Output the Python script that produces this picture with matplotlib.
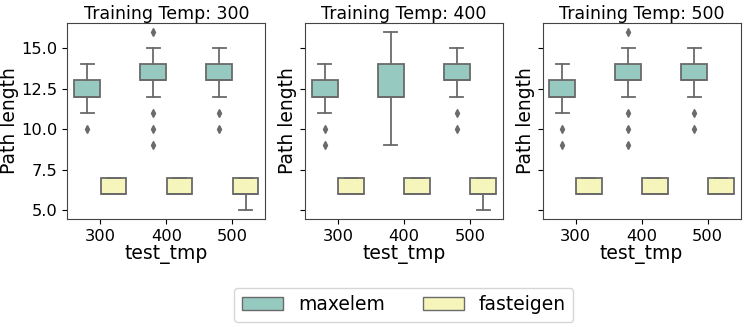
import matplotlib
matplotlib.use("Agg")
import matplotlib.pyplot as plt
from matplotlib.patches import Patch

# box statistics: (q1, median, q3, whisker low, whisker high, fliers)
train_temps = [300, 400, 500]
test_tmps = [300, 400, 500]
methods = ["maxelem", "fasteigen"]
colors = ["#96cac1", "#f6f6bc"]
line_gray = "#6a6a6a"

maxelem_stats = {
    300: [(12, 12, 13, 11, 14, [10]),
          (13, 13, 14, 12, 15, [16, 11, 10, 9]),
          (13, 13, 14, 12, 15, [11, 10])],
    400: [(12, 12, 13, 11, 14, [10, 9]),
          (12, 12, 14, 9, 16, []),
          (13, 13, 14, 12, 15, [11, 10])],
    500: [(12, 12, 13, 11, 14, [10, 9]),
          (13, 13, 14, 12, 15, [16, 11, 10, 9]),
          (13, 13, 14, 12, 15, [11, 10])],
}
fasteigen_stats = {
    300: [(6, 6, 7, 6, 7, []),
          (6, 6, 7, 6, 7, []),
          (6, 6, 7, 5, 7, [])],
    400: [(6, 6, 7, 6, 7, []),
          (6, 6, 7, 6, 7, []),
          (6, 6, 7, 5, 7, [])],
    500: [(6, 6, 7, 6, 7, []),
          (6, 6, 7, 6, 7, []),
          (6, 6, 7, 6, 7, [])],
}


def to_bxp(stats):
    out = []
    for q1, med, q3, lo, hi, fl in stats:
        out.append(dict(q1=q1, med=med, q3=q3, whislo=lo, whishi=hi, fliers=fl))
    return out


fig, axes = plt.subplots(1, 3, figsize=(7.48, 3.27), dpi=100, sharey=True)
fig.subplots_adjust(left=0.09, right=0.99, top=0.93, bottom=0.33, wspace=0.2)

for ax, tt in zip(axes, train_temps):
    for k, (m, col, data) in enumerate(zip(methods, colors, [maxelem_stats, fasteigen_stats])):
        pos = [i - 0.2 + 0.4 * k for i in range(len(test_tmps))]
        ax.bxp(to_bxp(data[tt]), positions=pos, widths=0.39, patch_artist=True,
               boxprops=dict(facecolor=col, edgecolor=line_gray, linewidth=1.3),
               whiskerprops=dict(color=line_gray, linewidth=1.3),
               capprops=dict(color=line_gray, linewidth=1.3),
               medianprops=dict(color=line_gray, linewidth=1.3),
               flierprops=dict(marker="d", markerfacecolor=line_gray,
                               markeredgecolor=line_gray, markersize=4),
               manage_ticks=False)
    ax.set_xticks(range(len(test_tmps)))
    ax.set_xticklabels([str(t) for t in test_tmps])
    ax.set_xlim(-0.5, 2.5)
    ax.set_title("Training Temp: %d" % tt, fontsize=12.5, pad=3)
    ax.set_xlabel("test_tmp", fontsize=13.5, labelpad=1)
    ax.set_ylabel("Path length", fontsize=13.5, labelpad=2)
    ax.tick_params(labelsize=11.7)
    for s in ax.spines.values():
        s.set_color("#444444")

axes[0].set_ylim(4.45, 16.55)
axes[0].set_yticks([5.0, 7.5, 10.0, 12.5, 15.0])

handles = [Patch(facecolor=c, edgecolor=line_gray) for c in colors]
fig.legend(handles, methods, loc="lower center", ncol=2, fontsize=13.5,
           bbox_to_anchor=(0.54, -0.013), handlelength=2.2, columnspacing=2.0)

plt.savefig("out.png")
